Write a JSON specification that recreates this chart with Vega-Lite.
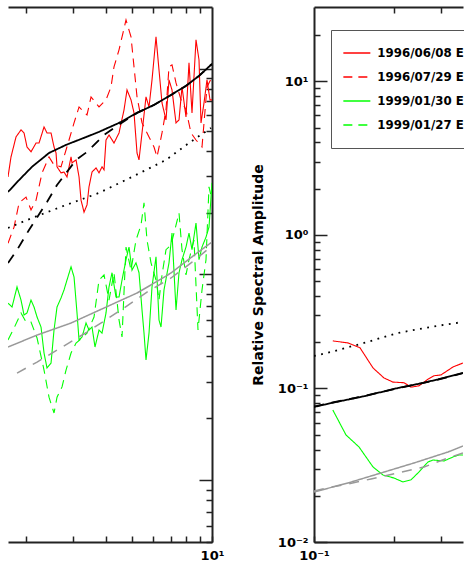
{
"$schema": "https://vega.github.io/schema/vega-lite/v6.json",
"padding": {"left": 8, "top": 6, "right": 0, "bottom": 0},
"config": {
  "font": "DejaVu Sans",
  "view": {"stroke": null},
  "axis": {"domainColor": "#222", "domainWidth": 2, "tickColor": "#222", "tickWidth": 1.5, "grid": false,
    "labelFont": "DejaVu Sans", "labelFontWeight": "bold", "labelFontSize": 13, "labelColor": "#000",
    "labelOverlap": false, "labelFlush": false, "labelBound": false,
    "titleFont": "DejaVu Sans", "titleFontWeight": "bold", "titleFontSize": 14, "titleColor": "#000"}
},
"datasets": {"d": [
{"p":"L","s":"1996/06/08 E","f":1.71,"a":29.8},{"p":"L","s":"1996/06/08 E","f":1.755,"a":37.3},{"p":"L","s":"1996/06/08 E","f":1.833,"a":46.7},{"p":"L","s":"1996/06/08 E","f":1.914,"a":50.5},{"p":"L","s":"1996/06/08 E","f":1.965,"a":48.8},{"p":"L","s":"1996/06/08 E","f":2.016,"a":41.7},{"p":"L","s":"1996/06/08 E","f":2.087,"a":39.5},{"p":"L","s":"1996/06/08 E","f":2.18,"a":43.6},{"p":"L","s":"1996/06/08 E","f":2.237,"a":43.6},{"p":"L","s":"1996/06/08 E","f":2.336,"a":52.2},{"p":"L","s":"1996/06/08 E","f":2.397,"a":48.8},{"p":"L","s":"1996/06/08 E","f":2.482,"a":48.8},{"p":"L","s":"1996/06/08 E","f":2.547,"a":41.7},{"p":"L","s":"1996/06/08 E","f":2.592,"a":39.0},{"p":"L","s":"1996/06/08 E","f":2.614,"a":33.4},{"p":"L","s":"1996/06/08 E","f":2.706,"a":31.2},{"p":"L","s":"1996/06/08 E","f":2.777,"a":31.5},{"p":"L","s":"1996/06/08 E","f":2.85,"a":29.8},{"p":"L","s":"1996/06/08 E","f":2.951,"a":37.3},{"p":"L","s":"1996/06/08 E","f":2.977,"a":34.9},{"p":"L","s":"1996/06/08 E","f":3.082,"a":36.1},{"p":"L","s":"1996/06/08 E","f":3.163,"a":29.8},{"p":"L","s":"1996/06/08 E","f":3.218,"a":23.0},{"p":"L","s":"1996/06/08 E","f":3.303,"a":20.1},{"p":"L","s":"1996/06/08 E","f":3.389,"a":21.8},{"p":"L","s":"1996/06/08 E","f":3.448,"a":26.7},{"p":"L","s":"1996/06/08 E","f":3.539,"a":31.5},{"p":"L","s":"1996/06/08 E","f":3.664,"a":33.0},{"p":"L","s":"1996/06/08 E","f":3.76,"a":31.2},{"p":"L","s":"1996/06/08 E","f":3.859,"a":33.4},{"p":"L","s":"1996/06/08 E","f":3.927,"a":32.3},{"p":"L","s":"1996/06/08 E","f":3.995,"a":45.1},{"p":"L","s":"1996/06/08 E","f":4.1,"a":47.7},{"p":"L","s":"1996/06/08 E","f":4.281,"a":43.6},{"p":"L","s":"1996/06/08 E","f":4.471,"a":48.8},{"p":"L","s":"1996/06/08 E","f":4.669,"a":63.2},{"p":"L","s":"1996/06/08 E","f":4.792,"a":79.0},{"p":"L","s":"1996/06/08 E","f":4.96,"a":70.7},{"p":"L","s":"1996/06/08 E","f":5.091,"a":61.1},{"p":"L","s":"1996/06/08 E","f":5.225,"a":39.0},{"p":"L","s":"1996/06/08 E","f":5.316,"a":36.1},{"p":"L","s":"1996/06/08 E","f":5.456,"a":48.8},{"p":"L","s":"1996/06/08 E","f":5.648,"a":73.1},{"p":"L","s":"1996/06/08 E","f":5.797,"a":65.3},{"p":"L","s":"1996/06/08 E","f":5.949,"a":88.4},{"p":"L","s":"1996/06/08 E","f":6.159,"a":143.1},{"p":"L","s":"1996/06/08 E","f":6.32,"a":98.9},{"p":"L","s":"1996/06/08 E","f":6.487,"a":68.3},{"p":"L","s":"1996/06/08 E","f":6.715,"a":56.5},{"p":"L","s":"1996/06/08 E","f":6.892,"a":88.4},{"p":"L","s":"1996/06/08 E","f":7.073,"a":79.0},{"p":"L","s":"1996/06/08 E","f":7.323,"a":54.6},{"p":"L","s":"1996/06/08 E","f":7.516,"a":56.5},{"p":"L","s":"1996/06/08 E","f":7.713,"a":81.7},{"p":"L","s":"1996/06/08 E","f":7.984,"a":58.4},{"p":"L","s":"1996/06/08 E","f":8.195,"a":107.0},{"p":"L","s":"1996/06/08 E","f":8.41,"a":61.1},{"p":"L","s":"1996/06/08 E","f":8.707,"a":138.4},{"p":"L","s":"1996/06/08 E","f":8.936,"a":110.6},{"p":"L","s":"1996/06/08 E","f":9.092,"a":54.6},{"p":"L","s":"1996/06/08 E","f":9.331,"a":68.3},{"p":"L","s":"1996/06/08 E","f":9.576,"a":88.4},{"p":"L","s":"1996/06/08 E","f":9.829,"a":70.7},{"p":"L","s":"1996/06/08 E","f":10,"a":70.7},
{"p":"L","s":"1996/07/29 E","f":1.71,"a":14.2},{"p":"L","s":"1996/07/29 E","f":1.802,"a":17.0},{"p":"L","s":"1996/07/29 E","f":1.882,"a":22.3},{"p":"L","s":"1996/07/29 E","f":1.999,"a":23.8},{"p":"L","s":"1996/07/29 E","f":2.087,"a":20.6},{"p":"L","s":"1996/07/29 E","f":2.18,"a":23.0},{"p":"L","s":"1996/07/29 E","f":2.296,"a":31.2},{"p":"L","s":"1996/07/29 E","f":2.439,"a":37.3},{"p":"L","s":"1996/07/29 E","f":2.547,"a":34.1},{"p":"L","s":"1996/07/29 E","f":2.706,"a":33.4},{"p":"L","s":"1996/07/29 E","f":2.9,"a":45.1},{"p":"L","s":"1996/07/29 E","f":3.029,"a":54.6},{"p":"L","s":"1996/07/29 E","f":3.163,"a":65.3},{"p":"L","s":"1996/07/29 E","f":3.389,"a":59.7},{"p":"L","s":"1996/07/29 E","f":3.509,"a":73.1},{"p":"L","s":"1996/07/29 E","f":3.76,"a":65.3},{"p":"L","s":"1996/07/29 E","f":3.995,"a":70.7},{"p":"L","s":"1996/07/29 E","f":4.171,"a":81.7},{"p":"L","s":"1996/07/29 E","f":4.281,"a":102.3},{"p":"L","s":"1996/07/29 E","f":4.471,"a":123.8},{"p":"L","s":"1996/07/29 E","f":4.628,"a":149.7},{"p":"L","s":"1996/07/29 E","f":4.75,"a":173.1},{"p":"L","s":"1996/07/29 E","f":4.96,"a":143.1},{"p":"L","s":"1996/07/29 E","f":5.091,"a":102.3},{"p":"L","s":"1996/07/29 E","f":5.225,"a":73.1},{"p":"L","s":"1996/07/29 E","f":5.456,"a":54.6},{"p":"L","s":"1996/07/29 E","f":5.797,"a":46.7},{"p":"L","s":"1996/07/29 E","f":6.053,"a":41.7},{"p":"L","s":"1996/07/29 E","f":6.212,"a":37.3},{"p":"L","s":"1996/07/29 E","f":6.487,"a":48.8},{"p":"L","s":"1996/07/29 E","f":6.715,"a":63.2},{"p":"L","s":"1996/07/29 E","f":6.892,"a":102.3},{"p":"L","s":"1996/07/29 E","f":7.073,"a":104.6},{"p":"L","s":"1996/07/29 E","f":7.323,"a":85.5},{"p":"L","s":"1996/07/29 E","f":7.647,"a":70.7},{"p":"L","s":"1996/07/29 E","f":7.984,"a":63.2},{"p":"L","s":"1996/07/29 E","f":8.338,"a":48.8},{"p":"L","s":"1996/07/29 E","f":8.707,"a":45.1},{"p":"L","s":"1996/07/29 E","f":9.171,"a":41.7},{"p":"L","s":"1996/07/29 E","f":9.576,"a":81.7},{"p":"L","s":"1996/07/29 E","f":10,"a":91.4},
{"p":"L","s":"1999/01/30 E","f":1.71,"a":7.26},{"p":"L","s":"1999/01/30 E","f":1.771,"a":6.95},{"p":"L","s":"1999/01/30 E","f":1.849,"a":8.70},{"p":"L","s":"1999/01/30 E","f":1.914,"a":7.51},{"p":"L","s":"1999/01/30 E","f":1.965,"a":6.35},{"p":"L","s":"1999/01/30 E","f":2.016,"a":6.50},{"p":"L","s":"1999/01/30 E","f":2.087,"a":7.51},{"p":"L","s":"1999/01/30 E","f":2.142,"a":6.95},{"p":"L","s":"1999/01/30 E","f":2.199,"a":6.21},{"p":"L","s":"1999/01/30 E","f":2.276,"a":5.55},{"p":"L","s":"1999/01/30 E","f":2.336,"a":4.15},{"p":"L","s":"1999/01/30 E","f":2.397,"a":3.51},{"p":"L","s":"1999/01/30 E","f":2.482,"a":3.71},{"p":"L","s":"1999/01/30 E","f":2.547,"a":5.37},{"p":"L","s":"1999/01/30 E","f":2.614,"a":6.95},{"p":"L","s":"1999/01/30 E","f":2.706,"a":7.69},{"p":"L","s":"1999/01/30 E","f":2.777,"a":8.41},{"p":"L","s":"1999/01/30 E","f":2.85,"a":9.40},{"p":"L","s":"1999/01/30 E","f":2.951,"a":10.9},{"p":"L","s":"1999/01/30 E","f":3.029,"a":9.72},{"p":"L","s":"1999/01/30 E","f":3.108,"a":6.50},{"p":"L","s":"1999/01/30 E","f":3.163,"a":4.80},{"p":"L","s":"1999/01/30 E","f":3.246,"a":4.97},{"p":"L","s":"1999/01/30 E","f":3.36,"a":5.81},{"p":"L","s":"1999/01/30 E","f":3.448,"a":5.37},{"p":"L","s":"1999/01/30 E","f":3.539,"a":5.55},{"p":"L","s":"1999/01/30 E","f":3.632,"a":4.44},{"p":"L","s":"1999/01/30 E","f":3.76,"a":5.37},{"p":"L","s":"1999/01/30 E","f":3.859,"a":5.19},{"p":"L","s":"1999/01/30 E","f":3.995,"a":6.50},{"p":"L","s":"1999/01/30 E","f":4.1,"a":8.70},{"p":"L","s":"1999/01/30 E","f":4.208,"a":10.2},{"p":"L","s":"1999/01/30 E","f":4.356,"a":7.77},{"p":"L","s":"1999/01/30 E","f":4.471,"a":7.77},{"p":"L","s":"1999/01/30 E","f":4.589,"a":9.40},{"p":"L","s":"1999/01/30 E","f":4.75,"a":11.8},{"p":"L","s":"1999/01/30 E","f":4.875,"a":13.6},{"p":"L","s":"1999/01/30 E","f":5.003,"a":10.5},{"p":"L","s":"1999/01/30 E","f":5.179,"a":11.4},{"p":"L","s":"1999/01/30 E","f":5.316,"a":10.2},{"p":"L","s":"1999/01/30 E","f":5.456,"a":6.72},{"p":"L","s":"1999/01/30 E","f":5.551,"a":5.19},{"p":"L","s":"1999/01/30 E","f":5.648,"a":3.84},{"p":"L","s":"1999/01/30 E","f":5.797,"a":5.19},{"p":"L","s":"1999/01/30 E","f":5.949,"a":8.70},{"p":"L","s":"1999/01/30 E","f":6.159,"a":12.2},{"p":"L","s":"1999/01/30 E","f":6.32,"a":6.01},{"p":"L","s":"1999/01/30 E","f":6.431,"a":5.55},{"p":"L","s":"1999/01/30 E","f":6.6,"a":8.41},{"p":"L","s":"1999/01/30 E","f":6.892,"a":11.4},{"p":"L","s":"1999/01/30 E","f":7.073,"a":15.9},{"p":"L","s":"1999/01/30 E","f":7.323,"a":6.72},{"p":"L","s":"1999/01/30 E","f":7.516,"a":10.2},{"p":"L","s":"1999/01/30 E","f":7.713,"a":11.8},{"p":"L","s":"1999/01/30 E","f":7.984,"a":13.6},{"p":"L","s":"1999/01/30 E","f":8.195,"a":15.9},{"p":"L","s":"1999/01/30 E","f":8.41,"a":13.2},{"p":"L","s":"1999/01/30 E","f":8.707,"a":17.8},{"p":"L","s":"1999/01/30 E","f":8.936,"a":11.8},{"p":"L","s":"1999/01/30 E","f":9.171,"a":13.6},{"p":"L","s":"1999/01/30 E","f":9.494,"a":15.2},{"p":"L","s":"1999/01/30 E","f":9.744,"a":17.0},{"p":"L","s":"1999/01/30 E","f":10,"a":27.9},
{"p":"L","s":"1999/01/27 E","f":1.71,"a":4.80},{"p":"L","s":"1999/01/27 E","f":1.802,"a":5.49},{"p":"L","s":"1999/01/27 E","f":1.914,"a":6.50},{"p":"L","s":"1999/01/27 E","f":1.999,"a":5.87},{"p":"L","s":"1999/01/27 E","f":2.087,"a":5.87},{"p":"L","s":"1999/01/27 E","f":2.199,"a":4.91},{"p":"L","s":"1999/01/27 E","f":2.336,"a":3.43},{"p":"L","s":"1999/01/27 E","f":2.439,"a":2.53},{"p":"L","s":"1999/01/27 E","f":2.547,"a":2.12},{"p":"L","s":"1999/01/27 E","f":2.614,"a":2.53},{"p":"L","s":"1999/01/27 E","f":2.73,"a":2.84},{"p":"L","s":"1999/01/27 E","f":2.826,"a":3.43},{"p":"L","s":"1999/01/27 E","f":2.951,"a":4.15},{"p":"L","s":"1999/01/27 E","f":3.082,"a":4.64},{"p":"L","s":"1999/01/27 E","f":3.246,"a":4.91},{"p":"L","s":"1999/01/27 E","f":3.389,"a":5.19},{"p":"L","s":"1999/01/27 E","f":3.601,"a":6.21},{"p":"L","s":"1999/01/27 E","f":3.76,"a":9.40},{"p":"L","s":"1999/01/27 E","f":3.927,"a":9.95},{"p":"L","s":"1999/01/27 E","f":4.1,"a":7.51},{"p":"L","s":"1999/01/27 E","f":4.281,"a":10.2},{"p":"L","s":"1999/01/27 E","f":4.471,"a":6.01},{"p":"L","s":"1999/01/27 E","f":4.589,"a":4.97},{"p":"L","s":"1999/01/27 E","f":4.75,"a":13.6},{"p":"L","s":"1999/01/27 E","f":4.96,"a":10.5},{"p":"L","s":"1999/01/27 E","f":5.179,"a":14.7},{"p":"L","s":"1999/01/27 E","f":5.409,"a":17.4},{"p":"L","s":"1999/01/27 E","f":5.551,"a":22.3},{"p":"L","s":"1999/01/27 E","f":5.697,"a":14.7},{"p":"L","s":"1999/01/27 E","f":5.898,"a":11.4},{"p":"L","s":"1999/01/27 E","f":6.159,"a":9.40},{"p":"L","s":"1999/01/27 E","f":6.32,"a":7.51},{"p":"L","s":"1999/01/27 E","f":6.487,"a":9.95},{"p":"L","s":"1999/01/27 E","f":6.715,"a":13.2},{"p":"L","s":"1999/01/27 E","f":7.012,"a":13.9},{"p":"L","s":"1999/01/27 E","f":7.323,"a":17.4},{"p":"L","s":"1999/01/27 E","f":7.516,"a":19.9},{"p":"L","s":"1999/01/27 E","f":7.713,"a":13.2},{"p":"L","s":"1999/01/27 E","f":7.984,"a":9.95},{"p":"L","s":"1999/01/27 E","f":8.195,"a":11.8},{"p":"L","s":"1999/01/27 E","f":8.557,"a":14.7},{"p":"L","s":"1999/01/27 E","f":8.859,"a":5.37},{"p":"L","s":"1999/01/27 E","f":9.171,"a":8.41},{"p":"L","s":"1999/01/27 E","f":9.494,"a":11.8},{"p":"L","s":"1999/01/27 E","f":9.744,"a":26.7},{"p":"L","s":"1999/01/27 E","f":10,"a":23.0},
{"p":"L","s":"g1","f":1.71,"a":4.437},{"p":"L","s":"g1","f":2.199,"a":5.077},{"p":"L","s":"g1","f":2.951,"a":5.808},{"p":"L","s":"g1","f":3.927,"a":6.871},{"p":"L","s":"g1","f":5.225,"a":8.128},{"p":"L","s":"g1","f":6.159,"a":9.194},{"p":"L","s":"g1","f":7.012,"a":10.17},{"p":"L","s":"g1","f":8.782,"a":12.72},{"p":"L","s":"g1","f":10,"a":14.39},
{"p":"L","s":"g2","f":1.849,"a":3.316},{"p":"L","s":"g2","f":2.199,"a":3.752},{"p":"L","s":"g2","f":2.73,"a":4.437},{"p":"L","s":"g2","f":3.389,"a":5.251},{"p":"L","s":"g2","f":4.549,"a":6.719},{"p":"L","s":"g2","f":5.697,"a":8.219},{"p":"L","s":"g2","f":7.012,"a":9.616},{"p":"L","s":"g2","f":8.338,"a":11.38},{"p":"L","s":"g2","f":10,"a":13.76},
{"p":"L","s":"k3","f":1.71,"a":16.84},{"p":"L","s":"k3","f":2.105,"a":18.83},{"p":"L","s":"k3","f":2.826,"a":21.78},{"p":"L","s":"k3","f":3.76,"a":24.93},{"p":"L","s":"k3","f":5.003,"a":29.82},{"p":"L","s":"k3","f":6.715,"a":36.07},{"p":"L","s":"k3","f":8.195,"a":43.63},{"p":"L","s":"k3","f":9.914,"a":51.63},
{"p":"L","s":"k2","f":1.71,"a":11.38},{"p":"L","s":"k2","f":1.849,"a":13.16},{"p":"L","s":"k2","f":2.051,"a":16.47},{"p":"L","s":"k2","f":2.397,"a":22.53},{"p":"L","s":"k2","f":2.614,"a":27.26},{"p":"L","s":"k2","f":3.082,"a":36.07},{"p":"L","s":"k2","f":3.389,"a":39.46},{"p":"L","s":"k2","f":3.927,"a":47.73},{"p":"L","s":"k2","f":4.75,"a":56.47},{"p":"L","s":"k2","f":5.225,"a":61.1},{"p":"L","s":"k2","f":6.053,"a":66.8},{"p":"L","s":"k2","f":7.012,"a":74.7},{"p":"L","s":"k2","f":7.984,"a":82.7},{"p":"L","s":"k2","f":8.936,"a":92.5},{"p":"L","s":"k2","f":10,"a":105.7},
{"p":"L","s":"k1","f":1.71,"a":25.2},{"p":"L","s":"k1","f":1.882,"a":28.8},{"p":"L","s":"k1","f":2.105,"a":33.4},{"p":"L","s":"k1","f":2.439,"a":39.0},{"p":"L","s":"k1","f":2.826,"a":42.7},{"p":"L","s":"k1","f":3.303,"a":46.2},{"p":"L","s":"k1","f":3.76,"a":49.4},{"p":"L","s":"k1","f":4.471,"a":54.6},{"p":"L","s":"k1","f":5.225,"a":61.1},{"p":"L","s":"k1","f":6.053,"a":66.8},{"p":"L","s":"k1","f":7.012,"a":74.7},{"p":"L","s":"k1","f":7.984,"a":82.7},{"p":"L","s":"k1","f":8.936,"a":92.5},{"p":"L","s":"k1","f":10,"a":105.7},
{"p":"R","s":"1996/06/08 E","f":0.1177,"a":0.204},{"p":"R","s":"1996/06/08 E","f":0.1342,"a":0.198},{"p":"R","s":"1996/06/08 E","f":0.1489,"a":0.184},{"p":"R","s":"1996/06/08 E","f":0.1667,"a":0.136},{"p":"R","s":"1996/06/08 E","f":0.1833,"a":0.117},{"p":"R","s":"1996/06/08 E","f":0.1981,"a":0.110},{"p":"R","s":"1996/06/08 E","f":0.2179,"a":0.109},{"p":"R","s":"1996/06/08 E","f":0.2316,"a":0.102},{"p":"R","s":"1996/06/08 E","f":0.2482,"a":0.104},{"p":"R","s":"1996/06/08 E","f":0.2683,"a":0.115},{"p":"R","s":"1996/06/08 E","f":0.2826,"a":0.121},{"p":"R","s":"1996/06/08 E","f":0.3002,"a":0.1225},{"p":"R","s":"1996/06/08 E","f":0.3331,"a":0.138},{"p":"R","s":"1996/06/08 E","f":0.3632,"a":0.1465},
{"p":"R","s":"1999/01/30 E","f":0.1177,"a":0.0724},{"p":"R","s":"1999/01/30 E","f":0.1319,"a":0.0498},{"p":"R","s":"1999/01/30 E","f":0.1476,"a":0.0416},{"p":"R","s":"1999/01/30 E","f":0.1667,"a":0.0308},{"p":"R","s":"1999/01/30 E","f":0.1817,"a":0.0273},{"p":"R","s":"1999/01/30 E","f":0.1999,"a":0.0261},{"p":"R","s":"1999/01/30 E","f":0.2161,"a":0.0246},{"p":"R","s":"1999/01/30 E","f":0.2316,"a":0.0254},{"p":"R","s":"1999/01/30 E","f":0.2482,"a":0.0286},{"p":"R","s":"1999/01/30 E","f":0.2683,"a":0.0332},{"p":"R","s":"1999/01/30 E","f":0.2801,"a":0.0342},{"p":"R","s":"1999/01/30 E","f":0.3081,"a":0.0337},{"p":"R","s":"1999/01/30 E","f":0.3331,"a":0.0358},{"p":"R","s":"1999/01/30 E","f":0.3508,"a":0.0369},{"p":"R","s":"1999/01/30 E","f":0.3632,"a":0.0369},
{"p":"R","s":"g1","f":0.1,"a":0.02117},{"p":"R","s":"g1","f":0.1342,"a":0.02423},{"p":"R","s":"g1","f":0.1786,"a":0.02815},{"p":"R","s":"g1","f":0.2377,"a":0.03271},{"p":"R","s":"g1","f":0.319,"a":0.03857},{"p":"R","s":"g1","f":0.3632,"a":0.04221},
{"p":"R","s":"g2","f":0.1,"a":0.02149},{"p":"R","s":"g2","f":0.1159,"a":0.02282},{"p":"R","s":"g2","f":0.1342,"a":0.02387},{"p":"R","s":"g2","f":0.1638,"a":0.02573},{"p":"R","s":"g2","f":0.2069,"a":0.02815},{"p":"R","s":"g2","f":0.2591,"a":0.0308},{"p":"R","s":"g2","f":0.319,"a":0.03526},{"p":"R","s":"g2","f":0.3632,"a":0.038},
{"p":"R","s":"k3","f":0.1,"a":0.1628},{"p":"R","s":"k3","f":0.1159,"a":0.1729},{"p":"R","s":"k3","f":0.1542,"a":0.1979},{"p":"R","s":"k3","f":0.2069,"a":0.2299},{"p":"R","s":"k3","f":0.2753,"a":0.2517},{"p":"R","s":"k3","f":0.3632,"a":0.2711},
{"p":"R","s":"k2","f":0.1,"a":0.0762},{"p":"R","s":"k2","f":0.1159,"a":0.0806},{"p":"R","s":"k2","f":0.1542,"a":0.0893},{"p":"R","s":"k2","f":0.2069,"a":0.1005},{"p":"R","s":"k2","f":0.2525,"a":0.1078},{"p":"R","s":"k2","f":0.2925,"a":0.1142},{"p":"R","s":"k2","f":0.3632,"a":0.1258},
{"p":"R","s":"k1","f":0.1,"a":0.0758},{"p":"R","s":"k1","f":0.1159,"a":0.0803},{"p":"R","s":"k1","f":0.1542,"a":0.089},{"p":"R","s":"k1","f":0.2069,"a":0.1007},{"p":"R","s":"k1","f":0.2525,"a":0.108},{"p":"R","s":"k1","f":0.2925,"a":0.1145},{"p":"R","s":"k1","f":0.3632,"a":0.1262}
]},
"spacing": 27,
"resolve": {"scale": {"color": "independent", "strokeDash": "independent"}, "legend": {"color": "independent", "strokeDash": "independent"}},
"hconcat": [
{
  "width": 204, "height": 535,
  "data": {"name": "d"},
  "transform": [{"filter": "datum.p == 'L'"}],
  "resolve": {"axis": {"x": "independent"}},
  "layer": [
    {
      "transform": [{"filter": "length(datum.s) > 3"}],
      "mark": {"type": "line", "clip": true, "strokeWidth": 1.1},
      "encoding": {
        "x": {"field": "f", "type": "quantitative", "scale": {"type": "log", "domain": [1.71, 10], "nice": false},
          "axis": {"orient": "bottom", "values": [2,3,4,5,6,7,8,9,10], "tickSize": -6, "labelPadding": 13, "labelExpr": "datum.value == 10 ? '10¹' : ''", "title": null}},
        "y": {"field": "a", "type": "quantitative", "scale": {"type": "log", "domain": [0.5, 200], "nice": false},
          "axis": {"orient": "right", "values": [0.5,0.6,0.7,0.8,0.9,1,2,3,4,5,6,7,8,9,10,20,30,40,50,60,70,80,90,100], "tickSize": {"condition": {"test": "indexof([1,10,100], datum.value) >= 0", "value": -13}, "value": -6}, "labels": false, "title": null}},
        "color": {"field": "s", "type": "nominal", "legend": null,
          "scale": {"domain": ["1996/06/08 E","1996/07/29 E","1999/01/30 E","1999/01/27 E","k1","k2","k3","g1","g2"], "range": ["#ff0000","#ff0000","#00ff00","#00ff00","#000000","#000000","#000000","#999999","#999999"]}},
        "strokeDash": {"field": "s", "type": "nominal", "legend": null,
          "scale": {"domain": ["1996/06/08 E","1996/07/29 E","1999/01/30 E","1999/01/27 E","k1","k2","k3","g1","g2"], "range": [[1,0],[9,6],[1,0],[9,6],[1,0],[10,8],[1.8,5.5],[1,0],[10,8]]}}
      }
    },
    {
      "transform": [{"filter": "length(datum.s) <= 3"}],
      "mark": {"type": "line", "clip": true},
      "encoding": {
        "x": {"field": "f", "type": "quantitative", "axis": {"orient": "top", "values": [2,3,4,5,6,7,8,9], "tickSize": -6, "labels": false, "title": null}},
        "y": {"field": "a", "type": "quantitative"},
        "color": {"field": "s", "type": "nominal", "legend": null},
        "strokeDash": {"field": "s", "type": "nominal", "legend": null},
        "strokeWidth": {"condition": {"test": "datum.s == 'g1' || datum.s == 'g2'", "value": 1.5}, "value": 1.8}
      }
    }
  ]
},
{
  "width": 149, "height": 535,
  "data": {"name": "d"},
  "transform": [{"filter": "datum.p == 'R'"}],
  "resolve": {"axis": {"x": "independent"}},
  "layer": [
    {
      "transform": [{"filter": "length(datum.s) > 3"}],
      "mark": {"type": "line", "clip": true, "strokeWidth": 1.1},
      "encoding": {
        "x": {"field": "f", "type": "quantitative", "scale": {"type": "log", "domain": [0.1, 0.3632], "nice": false},
          "axis": {"orient": "bottom", "values": [0.1,0.2,0.3], "tickSize": -6, "labelPadding": 13, "labelExpr": "datum.value == 0.1 ? '10⁻¹' : ''", "title": null}},
        "y": {"field": "a", "type": "quantitative", "scale": {"type": "log", "domain": [0.01, 30.5], "nice": false},
          "axis": {"orient": "left", "values": [0.01,0.02,0.03,0.04,0.05,0.06,0.07,0.08,0.09,0.1,0.2,0.3,0.4,0.5,0.6,0.7,0.8,0.9,1,2,3,4,5,6,7,8,9,10,20],
            "tickSize": {"condition": {"test": "indexof([0.01,0.1,1,10], datum.value) >= 0", "value": -13}, "value": -6},
            "labelPadding": 19,
            "labelExpr": "datum.value == 0.01 ? '10⁻²' : datum.value == 0.1 ? '10⁻¹' : datum.value == 1 ? '10⁰' : datum.value == 10 ? '10¹' : ''",
            "title": "Relative Spectral Amplitude", "titlePadding": 12}},
        "color": {"field": "s", "type": "nominal",
          "scale": {"domain": ["1996/06/08 E","1996/07/29 E","1999/01/30 E","1999/01/27 E","k1","k2","k3","g1","g2"], "range": ["#ff0000","#ff0000","#00ff00","#00ff00","#000000","#000000","#000000","#999999","#999999"]},
          "legend": {"values": ["1996/06/08 E","1996/07/29 E","1999/01/30 E","1999/01/27 E"], "title": null, "orient": "none", "legendX": 17, "legendY": 23,
            "symbolType": "stroke", "symbolSize": 729, "symbolStrokeWidth": 1.3,
            "labelFont": "DejaVu Sans", "labelFontSize": 11.8, "labelFontWeight": "bold", "labelColor": "#000", "labelLimit": 400, "labelOffset": 6,
            "padding": 11.35, "rowPadding": 0, "clipHeight": 23.3, "strokeColor": "#555", "fillColor": "white"}},
        "strokeDash": {"field": "s", "type": "nominal",
          "scale": {"domain": ["1996/06/08 E","1996/07/29 E","1999/01/30 E","1999/01/27 E","k1","k2","k3","g1","g2"], "range": [[1,0],[9,6],[1,0],[9,6],[1,0],[10,8],[1.8,5.5],[1,0],[10,8]]},
          "legend": {"values": ["1996/06/08 E","1996/07/29 E","1999/01/30 E","1999/01/27 E"], "title": null, "orient": "none", "legendX": 17, "legendY": 23,
            "symbolType": "stroke", "symbolSize": 729, "symbolStrokeWidth": 1.3,
            "labelFont": "DejaVu Sans", "labelFontSize": 11.8, "labelFontWeight": "bold", "labelColor": "#000", "labelLimit": 400, "labelOffset": 6,
            "padding": 11.35, "rowPadding": 0, "clipHeight": 23.3, "strokeColor": "#555", "fillColor": "white"}}
      }
    },
    {
      "transform": [{"filter": "length(datum.s) <= 3"}],
      "mark": {"type": "line", "clip": true},
      "encoding": {
        "x": {"field": "f", "type": "quantitative", "axis": {"orient": "top", "values": [0.2,0.3], "tickSize": -6, "labels": false, "title": null}},
        "y": {"field": "a", "type": "quantitative"},
        "color": {"field": "s", "type": "nominal"},
        "strokeDash": {"field": "s", "type": "nominal"},
        "strokeWidth": {"condition": {"test": "datum.s == 'g1' || datum.s == 'g2'", "value": 1.5}, "value": 1.8}
      }
    }
  ]
}
]
}
